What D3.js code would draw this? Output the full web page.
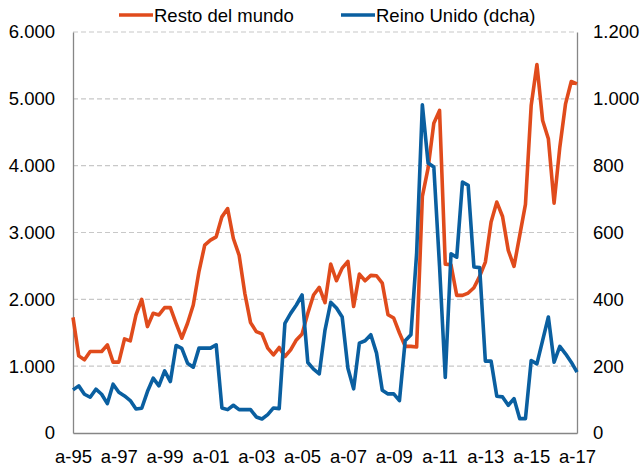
<!DOCTYPE html>
<html>
<head>
<meta charset="utf-8">
<script src="https://cdn.jsdelivr.net/npm/d3@7"></script>
<style>
  body { margin: 0; background: #fff; }
  svg text { font-family: "Liberation Sans", Arial, sans-serif; fill: #000; }
</style>
</head>
<body>
<div id="chart"></div>
<script>
// quarterly series, 1995 .. 2017
var tickLabels = ["a-95", "a-97", "a-99", "a-01", "a-03", "a-05", "a-07", "a-09", "a-11", "a-13", "a-15", "a-17"];

var restoMundo = [
  1730, 1154, 1095, 1219, 1219, 1219, 1318, 1060, 1060, 1408, 1378, 1766,
  2000, 1592, 1791, 1766, 1876, 1876, 1642, 1418, 1642, 1915, 2420, 2811,
  2886, 2935, 3234, 3358, 2910, 2662, 2090, 1652, 1517, 1483, 1269, 1169,
  1279, 1144, 1244, 1393, 1483, 1791, 2065, 2179, 1950, 2527, 2278, 2467,
  2567, 1894, 2378, 2278, 2358, 2353, 2243, 1770, 1720, 1496, 1296, 1296,
  1286, 3539, 3963, 4636, 4826, 2527, 2517, 2059, 2059, 2094, 2173, 2343,
  2557, 3156, 3455, 3240, 2732, 2493, 2956, 3420, 4900, 5513, 4676, 4402,
  3440, 4277, 4925, 5259, 5224
];

var reinoUnido = [
  129, 141, 116, 107, 131, 116, 88, 146, 122, 111, 97, 72,
  74, 124, 164, 141, 186, 154, 262, 253, 209, 197, 254, 254,
  254, 264, 75, 70, 83, 70, 70, 70, 48, 42, 55, 75,
  73, 328, 358, 383, 413, 211, 191, 177, 308, 391, 374, 347,
  194, 132, 269, 276, 294, 239, 128, 117, 117, 97, 276, 294,
  538, 982, 808, 796, 499, 166, 536, 526, 751, 741, 497, 495,
  215, 215, 110, 108, 83, 103, 43, 43, 217, 207, 277, 347,
  212, 259, 237, 212, 182
];

var leftTicks = [0, 1000, 2000, 3000, 4000, 5000, 6000];
var rightTicks = [0, 200, 400, 600, 800, 1000, 1200];

var width = 641, height = 469;
var margin = { top: 32, right: 64, bottom: 36, left: 73 };

var es = d3.formatLocale({ decimal: ",", thousands: ".", grouping: [3], currency: ["", " €"] });
var fmt = es.format(",d");

var svg = d3.select("#chart").append("svg")
  .attr("width", width).attr("height", height);

var x = d3.scaleLinear()
  .domain([0, restoMundo.length - 1])
  .range([margin.left, width - margin.right]);
var yL = d3.scaleLinear().domain([0, 6000]).range([height - margin.bottom, margin.top]);
var yR = d3.scaleLinear().domain([0, 1200]).range([height - margin.bottom, margin.top]);

// dashed grid
svg.append("g").attr("class", "grid")
  .selectAll("line").data(leftTicks.slice(1)).enter().append("line")
  .attr("x1", margin.left).attr("x2", width - margin.right)
  .attr("y1", function(d) { return yL(d); })
  .attr("y2", function(d) { return yL(d); })
  .attr("stroke", "#c8c8c8").attr("stroke-width", 1.2)
  .attr("stroke-dasharray", "5,3");

var fontSize = "18.5px";

var gL = svg.append("g")
  .attr("transform", "translate(" + margin.left + ",0)")
  .call(d3.axisLeft(yL).tickValues(leftTicks).tickFormat(fmt).tickSize(0).tickPadding(18));

var gR = svg.append("g")
  .attr("transform", "translate(" + (width - margin.right) + ",0)")
  .call(d3.axisRight(yR).tickValues(rightTicks).tickFormat(fmt).tickSize(0).tickPadding(16));

var xTickVals = tickLabels.map(function(d, i) { return i * 8; });
var gX = svg.append("g")
  .attr("transform", "translate(0," + (height - margin.bottom) + ")")
  .call(d3.axisBottom(x).tickValues(xTickVals)
    .tickFormat(function(d, i) { return tickLabels[i]; })
    .tickSize(0).tickPadding(17));

[gL, gR, gX].forEach(function(g) {
  g.select(".domain").attr("stroke", "#868686").attr("stroke-width", 1.3);
  g.selectAll("text").style("font-size", fontSize).attr("fill", "#000");
});

var line = function(scale) {
  return d3.line()
    .x(function(d, i) { return x(i); })
    .y(function(d) { return scale(d); });
};

var orange = "#e04b1c", blue = "#0a5fa0";

svg.append("path").datum(restoMundo)
  .attr("d", line(yL))
  .attr("fill", "none").attr("stroke", orange).attr("stroke-width", 3.6)
  .attr("stroke-linejoin", "round");

svg.append("path").datum(reinoUnido)
  .attr("d", line(yR))
  .attr("fill", "none").attr("stroke", blue).attr("stroke-width", 3.6)
  .attr("stroke-linejoin", "round");

// legend
var legend = [
  { name: "Resto del mundo", color: orange, x: 119 },
  { name: "Reino Unido (dcha)", color: blue, x: 341 }
];
var lg = svg.append("g").selectAll("g").data(legend).enter().append("g");
lg.append("line")
  .attr("x1", function(d) { return d.x; }).attr("x2", function(d) { return d.x + 34; })
  .attr("y1", 15).attr("y2", 15)
  .attr("stroke", function(d) { return d.color; }).attr("stroke-width", 3.6);
lg.append("text")
  .attr("x", function(d) { return d.x + 35; }).attr("y", 22)
  .style("font-size", fontSize)
  .text(function(d) { return d.name; });
</script>
</body>
</html>
